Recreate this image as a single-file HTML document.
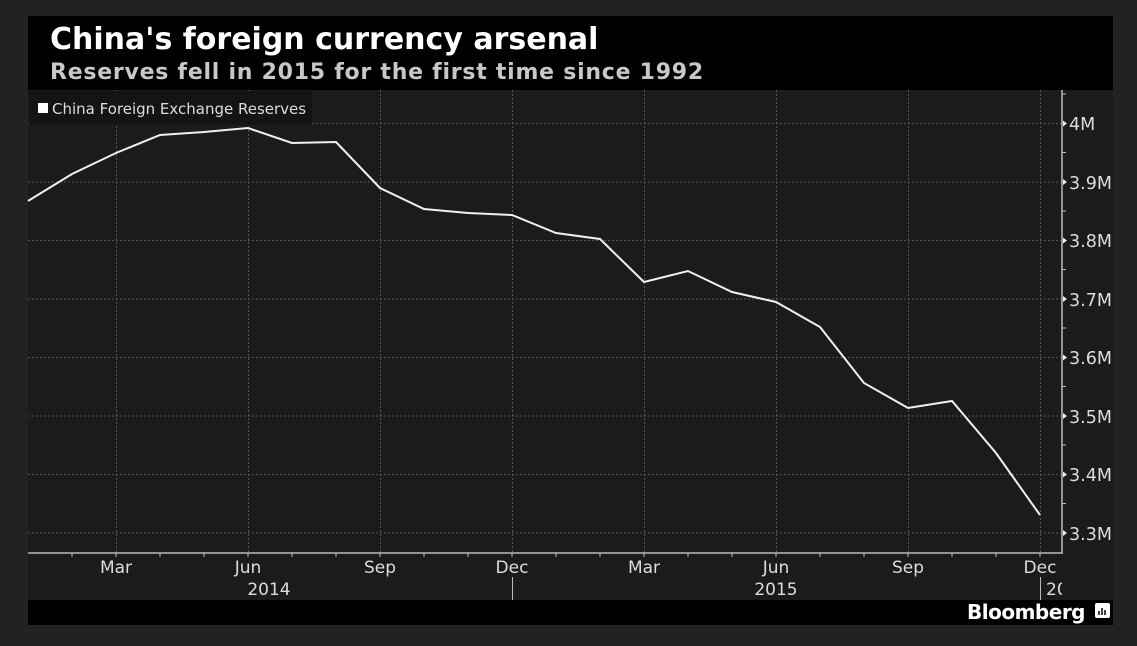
<!DOCTYPE html>
<html><head><style>
body{margin:0;background:#222;}
svg{display:block;font-family:"DejaVu Sans","Liberation Sans",sans-serif;}
</style></head><body>
<svg width="1137" height="646" viewBox="0 0 1137 646">
<rect width="1137" height="646" fill="#222"/>
<rect x="28" y="16" width="1085" height="74" fill="#000"/>
<text x="50" y="49" fill="#fff" font-size="30" font-weight="bold">China's foreign currency arsenal</text>
<text x="50" y="79" fill="#c8c8c8" font-size="22" font-weight="bold" letter-spacing="0.75">Reserves fell in 2015 for the first time since 1992</text>
<rect x="28" y="90" width="1085" height="510" fill="#1b1b1b"/>
<rect x="28" y="600" width="1085" height="25" fill="#000"/>
<g stroke="#555" stroke-dasharray="2,2" stroke-width="1">
<line x1="28" x2="1062" y1="123.5" y2="123.5"/><line x1="28" x2="1062" y1="182" y2="182"/>
<line x1="28" x2="1062" y1="240.5" y2="240.5"/><line x1="28" x2="1062" y1="299" y2="299"/>
<line x1="28" x2="1062" y1="357.5" y2="357.5"/><line x1="28" x2="1062" y1="416" y2="416"/>
<line x1="28" x2="1062" y1="474.5" y2="474.5"/><line x1="28" x2="1062" y1="533" y2="533"/>
<line x1="116.5" x2="116.5" y1="90" y2="553"/><line x1="248.5" x2="248.5" y1="90" y2="553"/>
<line x1="380.5" x2="380.5" y1="90" y2="553"/><line x1="512.5" x2="512.5" y1="90" y2="553"/>
<line x1="644.5" x2="644.5" y1="90" y2="553"/><line x1="776.5" x2="776.5" y1="90" y2="553"/>
<line x1="908.5" x2="908.5" y1="90" y2="553"/><line x1="1040.5" x2="1040.5" y1="90" y2="553"/>
</g>
<g stroke="#bbb" stroke-width="1.5">
<line x1="28" x2="1063" y1="553" y2="553"/><line x1="1062" x2="1062" y1="90" y2="553"/>
</g>
<g stroke="#bbb" stroke-width="1">
<path d="M72 553v4M116 553v4M160 553v4M204 553v4M248 553v4M292 553v4M336 553v4M380 553v4M424 553v4M468 553v4M512 553v4M556 553v4M600 553v4M644 553v4M688 553v4M732 553v4M776 553v4M820 553v4M864 553v4M908 553v4M952 553v4M996 553v4M1040 553v4"/>
<path d="M1062 94h4M1062 152.5h4M1062 211h4M1062 269.5h4M1062 328h4M1062 386.5h4M1062 445h4M1062 503.5h4"/>
<line x1="512.5" x2="512.5" y1="577" y2="600"/><line x1="1040.5" x2="1040.5" y1="577" y2="600"/>
</g>
<g fill="#eee">
<path d="M1063 120.5l4 3-4 3z"/><path d="M1063 179l4 3-4 3z"/><path d="M1063 237.5l4 3-4 3z"/><path d="M1063 296l4 3-4 3z"/><path d="M1063 354.5l4 3-4 3z"/><path d="M1063 413l4 3-4 3z"/><path d="M1063 471.5l4 3-4 3z"/><path d="M1063 530l4 3-4 3z"/>
</g>
<g fill="#ddd" font-size="17.5">
<text x="1069" y="130">4M</text><text x="1069" y="189">3.9M</text><text x="1069" y="247">3.8M</text><text x="1069" y="306">3.7M</text><text x="1069" y="364">3.6M</text><text x="1069" y="423">3.5M</text><text x="1069" y="481">3.4M</text><text x="1069" y="540">3.3M</text>
</g>
<g fill="#ddd" font-size="17" text-anchor="middle">
<text x="116" y="573">Mar</text><text x="248" y="573">Jun</text><text x="380" y="573">Sep</text><text x="512" y="573">Dec</text>
<text x="644" y="573">Mar</text><text x="776" y="573">Jun</text><text x="908" y="573">Sep</text><text x="1040" y="573">Dec</text>
<text x="269" y="595">2014</text><text x="776" y="595">2015</text>
</g>
<clipPath id="c"><rect x="1040" y="577" width="22" height="22"/></clipPath>
<text x="1046" y="595" fill="#ddd" font-size="17" clip-path="url(#c)">20</text>
<rect x="29" y="91" width="283" height="34" fill="#141414"/>
<rect x="38" y="103" width="10" height="10" fill="#fff"/>
<text x="52" y="114" fill="#ddd" font-size="15">China Foreign Exchange Reserves</text>
<polyline fill="none" stroke="#f0f0f0" stroke-width="2" points="28,201 72,174 116,153 160,135 204,132 248,128 292,143 336,142 380,188 424,209 468,213 512,215 556,233 600,239 644,282 688,271 732,292 776,302 820,327 864,383 908,408 952,401 996,453 1040,515"/>
<text x="1085" y="619" fill="#fff" font-size="20" font-weight="bold" text-anchor="end" letter-spacing="-0.5">Bloomberg</text>
<rect x="1095" y="603" width="15" height="15" rx="2" fill="#fff"/>
<path d="M1099 615v-4M1102 615v-7M1105 615v-5" stroke="#000" stroke-width="1.5"/>
</svg>
</body></html>
